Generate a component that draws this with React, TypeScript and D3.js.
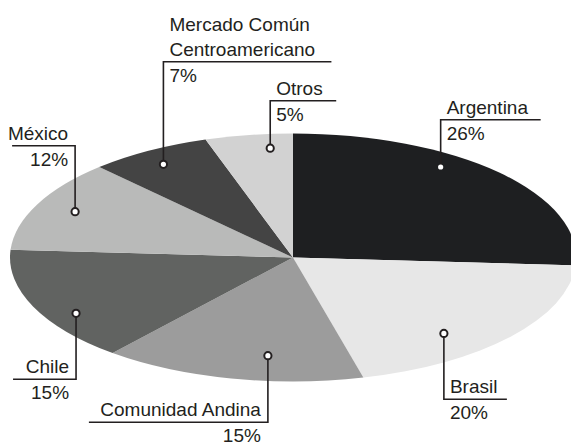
import React from 'react';
import * as d3 from 'd3';

const width = 571;
const height = 442;

// valores del gráfico
const names = ['Argentina', 'Brasil', 'Comunidad Andina', 'Chile', 'México', 'Mercado Común\nCentroamericano', 'Otros'];
const shares = [26, 20, 15, 15, 12, 7, 5];
const colors = ['#1e1f21', '#e7e7e7', '#9c9c9c', '#616361', '#b9bab9', '#444444', '#d2d2d2'];

// posición del marcador dentro de cada porción (fracción del ángulo, fracción del radio)
const markerT = [0.38, 0.63, 0.385, 0.37, 0.51, 0.47, 0.71];
const markerR = [0.897, 0.812, 0.797, 0.889, 0.854, 0.88, 0.885];
// línea guía: altura del codo, lado y largo del tramo horizontal
const elbowY = [119.7, 399.3, 422.3, 379.3, 145.7, 61.7, 100.7];
const side = [1, 1, -1, -1, -1, 1, 1];
const armLen = [100, 63, 179, 63, 63, 168, 66];

const cx = 293;
const cy = 257.5;
const rx = 283;
const ry = 124;
const ink = '#231f20';
const fontSize = 19;

const xScale = d3.scaleLinear().domain([-1, 1]).range([cx - rx, cx + rx]);
const yScale = d3.scaleLinear().domain([-1, 1]).range([cy + ry, cy - ry]);

export default function App() {
  const arcs = d3.pie<number>().sort(null).value((d) => d)(shares);
  const arc = d3.arc<d3.PieArcDatum<number>>().innerRadius(0).outerRadius(ry);

  return (
    <svg width={width} height={height} style={{ position: 'absolute', left: 0, top: 0 }}
      fontFamily="'Liberation Sans', Arial, sans-serif" fontSize={fontSize}>
      <rect width={width} height={height} fill="#fff" />
      <g transform={`translate(${cx},${cy}) scale(${rx / ry},1)`}>
        {arcs.map((a, i) => (
          <path key={i} d={arc(a) || ''} fill={colors[i]} />
        ))}
      </g>
      {arcs.map((a, i) => {
        const ang = a.startAngle + markerT[i] * (a.endAngle - a.startAngle);
        const mx = xScale(markerR[i] * Math.sin(ang));
        const my = yScale(markerR[i] * Math.cos(ang));
        const ey = elbowY[i];
        const ex = mx + side[i] * armLen[i];
        const lines = names[i].split('\n');
        const tx = side[i] > 0 ? mx + 6 : mx - 7;
        const anchor = side[i] > 0 ? 'start' : 'end';
        return (
          <g key={i}>
            <polyline points={`${mx},${my} ${mx},${ey} ${ex},${ey}`} fill="none" stroke={ink} strokeWidth={1.6} />
            {lines.map((l, j) => (
              <text key={j} x={tx} y={ey - 6 - (lines.length - 1 - j) * 25} textAnchor={anchor} fill={ink}>{l}</text>
            ))}
            <text x={tx} y={ey + 20} textAnchor={anchor} fill={ink}>{`${shares[i]}%`}</text>
            <circle cx={mx} cy={my} r={i === 0 ? 2.6 : 3.6} fill="#fff" stroke={i === 0 ? 'none' : ink} strokeWidth={2} />
          </g>
        );
      })}
    </svg>
  );
}
